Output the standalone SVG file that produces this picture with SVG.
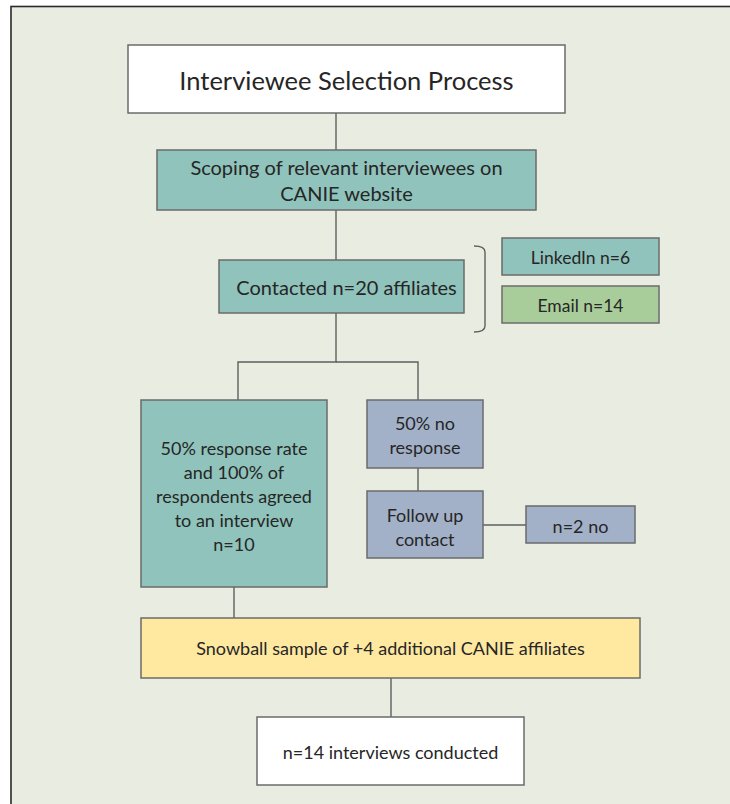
<svg xmlns="http://www.w3.org/2000/svg" width="730" height="804" viewBox="0 0 730 804">
  <style>
    .box { stroke: #6b6b6b; stroke-width: 1.5; }
    .white { fill: #ffffff; }
    .teal { fill: #8fc3bb; }
    .green { fill: #a9cd9a; }
    .slate { fill: #a2b1c8; }
    .yellow { fill: #ffe9a0; }
    .link { fill: none; stroke: #5f5f5f; stroke-width: 1.4; }
    text { font-family: Lato, "Open Sans", "Liberation Sans", sans-serif; fill: #262626; text-anchor: middle; dominant-baseline: central; }
    .t18 { font-size: 18px; }
    .t17 { font-size: 17.5px; }
    .t20 { font-size: 20px; }
  </style>

  <!-- page frame -->
  <rect x="0" y="0" width="730" height="804" fill="#ffffff"/>
  <rect x="11" y="6.5" width="730" height="810" fill="#e9ece0" stroke="#2a2a2a" stroke-width="1.6"/>

  <!-- connectors -->
  <g id="connectors">
    <line class="link" x1="336" y1="113" x2="336" y2="150"/>
    <line class="link" x1="336" y1="210" x2="336" y2="260"/>
    <polyline class="link" points="336,313 336,362 238,362 238,400"/>
    <polyline class="link" points="336,362 418,362 418,400"/>
    <line class="link" x1="418" y1="468" x2="418" y2="491"/>
    <line class="link" x1="483" y1="525" x2="526" y2="525"/>
    <line class="link" x1="234" y1="587" x2="234" y2="618"/>
    <line class="link" x1="391" y1="678" x2="391" y2="717"/>
    <!-- bracket grouping the contact channels -->
    <path class="link" d="M474,246 Q485,246 485,252 L485,326 Q485,332 474,332"/>
  </g>

  <g id="title">
    <rect class="box white" x="128" y="45" width="437" height="68"/>
    <text x="346.5" y="80" style="font-size:25.5px">Interviewee Selection Process</text>
  </g>

  <g id="scoping">
    <rect class="box teal" x="157" y="150" width="379" height="60"/>
    <text class="t20" x="346.5" y="167">Scoping of relevant interviewees on</text>
    <text class="t20" x="346.5" y="193">CANIE website</text>
  </g>

  <g id="contacted">
    <rect class="box teal" x="219" y="260" width="245" height="53"/>
    <text class="t20" x="346.5" y="287">Contacted n=20 affiliates</text>
  </g>

  <g id="linkedin">
    <rect class="box teal" x="502" y="238" width="157" height="37"/>
    <text class="t17" x="580.5" y="257">LinkedIn n=6</text>
  </g>

  <g id="email">
    <rect class="box green" x="502" y="286" width="157" height="37"/>
    <text class="t17" x="580.5" y="305">Email n=14</text>
  </g>

  <g id="responded">
    <rect class="box teal" x="141" y="400" width="186" height="187"/>
    <text class="t18" x="234" y="448">50% response rate</text>
    <text class="t18" x="234" y="472">and 100% of</text>
    <text class="t18" x="234" y="496">respondents agreed</text>
    <text class="t18" x="234" y="520">to an interview</text>
    <text class="t18" x="234" y="544">n=10</text>
  </g>

  <g id="no-response">
    <rect class="box slate" x="367" y="400" width="116" height="68"/>
    <text class="t18" x="425" y="423">50% no</text>
    <text class="t18" x="425" y="447">response</text>
  </g>

  <g id="follow-up">
    <rect class="box slate" x="367" y="491" width="116" height="67"/>
    <text class="t18" x="425" y="515">Follow up</text>
    <text class="t18" x="425" y="539">contact</text>
  </g>

  <g id="declined">
    <rect class="box slate" x="526" y="506" width="109" height="37"/>
    <text class="t18" x="580.5" y="526">n=2 no</text>
  </g>

  <g id="snowball">
    <rect class="box yellow" x="141" y="618" width="499" height="60"/>
    <text class="t18" x="390.5" y="648">Snowball sample of +4 additional CANIE affiliates</text>
  </g>

  <g id="interviews">
    <rect class="box white" x="257" y="717" width="267" height="68"/>
    <text class="t18" x="390.5" y="752">n=14 interviews conducted</text>
  </g>
</svg>
